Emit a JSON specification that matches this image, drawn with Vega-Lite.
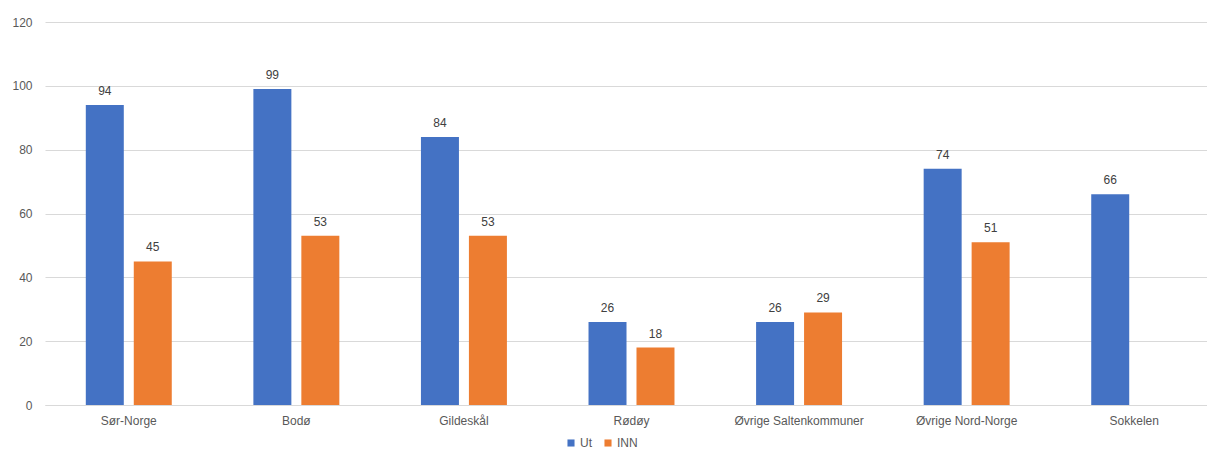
{
  "$schema": "https://vega.github.io/schema/vega-lite/v6.json",
  "width": 1162,
  "height": 383,
  "autosize": {"type": "none"},
  "padding": {"left": 45, "top": 22, "right": 0, "bottom": 44},
  "background": "white",
  "config": {
    "view": {"stroke": null},
    "font": "Liberation Sans"
  },
  "data": {
    "values": [
      {"omrade": "Sør-Norge", "serie": "Ut", "verdi": 94},
      {"omrade": "Sør-Norge", "serie": "INN", "verdi": 45},
      {"omrade": "Bodø", "serie": "Ut", "verdi": 99},
      {"omrade": "Bodø", "serie": "INN", "verdi": 53},
      {"omrade": "Gildeskål", "serie": "Ut", "verdi": 84},
      {"omrade": "Gildeskål", "serie": "INN", "verdi": 53},
      {"omrade": "Rødøy", "serie": "Ut", "verdi": 26},
      {"omrade": "Rødøy", "serie": "INN", "verdi": 18},
      {"omrade": "Øvrige Saltenkommuner", "serie": "Ut", "verdi": 26},
      {"omrade": "Øvrige Saltenkommuner", "serie": "INN", "verdi": 29},
      {"omrade": "Øvrige Nord-Norge", "serie": "Ut", "verdi": 74},
      {"omrade": "Øvrige Nord-Norge", "serie": "INN", "verdi": 51},
      {"omrade": "Sokkelen", "serie": "Ut", "verdi": 66}
    ]
  },
  "encoding": {
    "x": {
      "field": "omrade",
      "type": "nominal",
      "sort": null,
      "scale": {"range": [0, 1173], "paddingInner": 0.487, "paddingOuter": 0.2435},
      "axis": {
        "title": null,
        "labelAngle": 0,
        "ticks": false,
        "domainColor": "#d9d9d9",
        "labelColor": "#595959",
        "labelFontSize": 12,
        "labelPadding": 10
      }
    },
    "xOffset": {
      "field": "serie",
      "type": "nominal",
      "sort": ["Ut", "INN"],
      "scale": {"paddingInner": 0.208, "paddingOuter": 0}
    },
    "y": {
      "field": "verdi",
      "type": "quantitative",
      "scale": {"domain": [0, 120]},
      "axis": {
        "title": null,
        "values": [0, 20, 40, 60, 80, 100, 120],
        "domain": false,
        "ticks": false,
        "gridColor": "#d9d9d9",
        "labelColor": "#595959",
        "labelFontSize": 12,
        "labelPadding": 13
      }
    }
  },
  "layer": [
    {
      "mark": {"type": "bar"},
      "encoding": {
        "color": {
          "field": "serie",
          "type": "nominal",
          "sort": ["Ut", "INN"],
          "scale": {"domain": ["Ut", "INN"], "range": ["#4472C4", "#ED7D31"]},
          "legend": {
            "title": null,
            "orient": "none",
            "direction": "horizontal",
            "legendX": 520,
            "legendY": 415,
            "symbolType": "square",
            "symbolSize": 50,
            "symbolStrokeWidth": 0,
            "labelColor": "#595959",
            "labelFontSize": 12,
            "columnPadding": 10,
            "labelOffset": 3
          }
        }
      }
    },
    {
      "mark": {"type": "text", "baseline": "bottom", "dy": -7, "fontSize": 12, "color": "#404040"},
      "encoding": {
        "text": {"field": "verdi", "type": "quantitative"}
      }
    }
  ]
}
